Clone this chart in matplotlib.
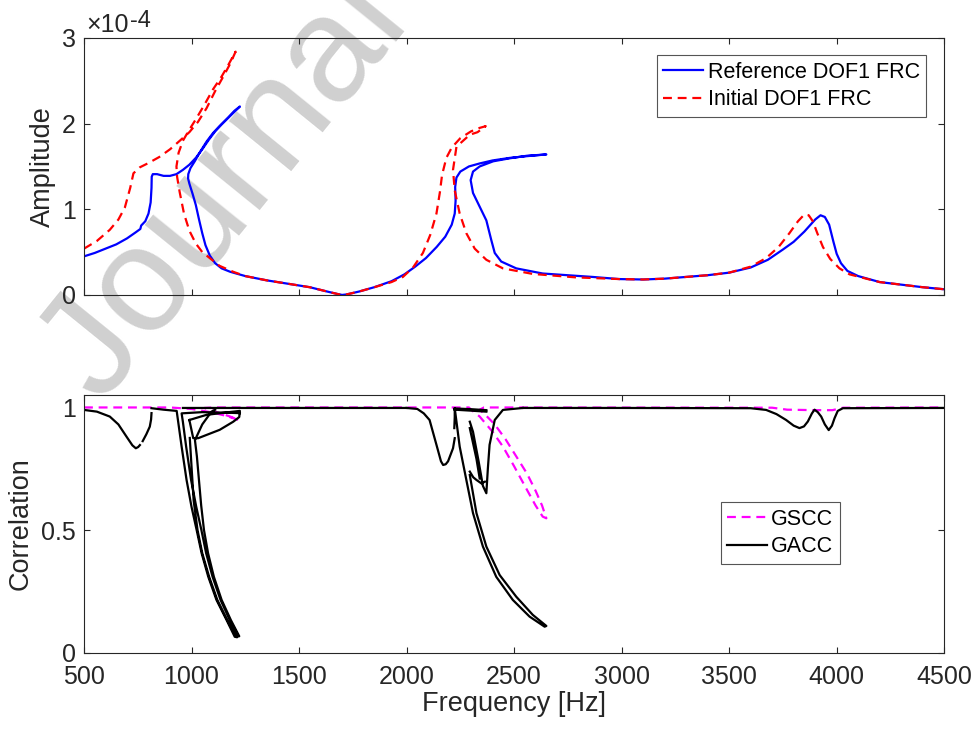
import numpy as np
import matplotlib
matplotlib.use("Agg")
import matplotlib.pyplot as plt

nan = np.nan

# ---- top panel: FRC amplitude (units of 1e-4) along the continuation path ----
ref_freq = [500, 550, 600, 650, 700, 740, 762, 766, 785, 800, 810, 814, 815, 820, 840, 870, 900, 930,
            960, 990, 1020, 1050, 1080, 1110, 1140, 1180, 1225,
            1200, 1170, 1130, 1100, 1070, 1040, 1015, 995, 985, 984, 990, 1005, 1020, 1035, 1050, 1065,
            1085, 1110, 1140, 1180, 1250, 1350, 1450, 1550, 1630, 1680, 1700, 1720, 1780, 1850, 1930,
            1990, 2040, 2090, 2140, 2180, 2210, 2224, 2228, 2226, 2232, 2250, 2290, 2340, 2400, 2480,
            2560, 2650,
            2560, 2480, 2403, 2340, 2309, 2298, 2309, 2340, 2371, 2394, 2410, 2440, 2510, 2633, 2865,
            2990, 3100, 3200, 3300, 3400, 3500, 3600, 3680, 3750, 3800, 3850, 3900, 3925, 3945, 3965,
            3985, 4000, 4020, 4050, 4100, 4200, 4300, 4400, 4500]
ref_amp = [0.45, 0.49, 0.54, 0.59, 0.66, 0.73, 0.77, 0.81, 0.86, 0.95, 1.08, 1.25, 1.38, 1.41, 1.41, 1.39,
           1.39, 1.41, 1.46, 1.52, 1.60, 1.70, 1.81, 1.91, 1.99, 2.09, 2.20,
           2.15, 2.07, 1.97, 1.89, 1.79, 1.67, 1.56, 1.48, 1.41, 1.36, 1.30, 1.18, 1.05, 0.88, 0.72, 0.58,
           0.46, 0.37, 0.31, 0.27, 0.22, 0.17, 0.13, 0.09, 0.04, 0.01, 0.0, 0.005, 0.04, 0.09, 0.16,
           0.24, 0.33, 0.43, 0.56, 0.68, 0.82, 0.95, 1.10, 1.26, 1.37, 1.44, 1.50, 1.535, 1.57, 1.60,
           1.62, 1.64,
           1.625, 1.595, 1.56, 1.50, 1.44, 1.34, 1.19, 1.03, 0.87, 0.64, 0.49, 0.39, 0.31, 0.25, 0.21,
           0.185, 0.18, 0.19, 0.21, 0.23, 0.26, 0.32, 0.41, 0.53, 0.62, 0.74, 0.88, 0.93, 0.91, 0.82,
           0.62, 0.48, 0.37, 0.28, 0.22, 0.15, 0.12, 0.09, 0.066]

ini_freq = [500, 560, 620, 660, 690, 715, 730, 760, 800, 850, 900, 950, 990, 1030, 1070, 1110, 1150,
            1180, 1205,
            1170, 1140, 1100, 1060, 1020, 990, 960, 940, 930, 933, 945, 965, 990, 1020, 1050, 1085,
            1130, 1194, 1250, 1350, 1450, 1550, 1630, 1680, 1700, 1720, 1780, 1850, 1930, 1983, 2030,
            2076, 2110, 2139, 2155, 2165, 2185, 2210, 2250, 2300, 2340, 2368,
            2330, 2294, 2232, 2216, 2224, 2247, 2278, 2317, 2371, 2448, 2587, 2786, 2990, 3100, 3200,
            3300, 3400, 3500, 3600, 3672, 3730, 3780, 3820, 3850, 3870, 3889, 3910, 3936, 3970, 4013,
            4060, 4137, 4200, 4300, 4400, 4500]
ini_amp = [0.54, 0.63, 0.76, 0.88, 1.02, 1.25, 1.42, 1.49, 1.54, 1.61, 1.70, 1.81, 1.90, 2.02, 2.18,
           2.38, 2.56, 2.70, 2.84,
           2.68, 2.55, 2.40, 2.22, 2.05, 1.93, 1.80, 1.66, 1.50, 1.38, 1.20, 0.95, 0.75, 0.60, 0.50, 0.43,
           0.34, 0.27, 0.22, 0.17, 0.13, 0.09, 0.04, 0.01, 0.0, 0.005, 0.04, 0.09, 0.15, 0.21, 0.32,
           0.49, 0.70, 0.95, 1.20, 1.40, 1.60, 1.72, 1.83, 1.91, 1.95, 1.97,
           1.90, 1.87, 1.73, 1.46, 1.22, 0.95, 0.72, 0.54, 0.41, 0.31, 0.245, 0.205, 0.185, 0.18, 0.19,
           0.21, 0.23, 0.26, 0.33, 0.43, 0.56, 0.72, 0.86, 0.94, 0.93, 0.86, 0.72, 0.56, 0.42, 0.31,
           0.24, 0.19, 0.15, 0.12, 0.09, 0.066]

# ---- bottom panel: correlation criteria ----
gscc_freq = [500, 900, 1000, 1100, 1160, 1220, 1180, 1100, 1060, 1100, 2200, 2290, 2300, 2340, 2400,
             2448, 2500, 2556, 2600, 2633, 2650, 2630, 2600, 2560, 2510, 2460, 2410, 2371, 2340, 2360,
             3700, 3770, 3900, 3980, 4030, 4500]
gscc_corr = [0.999, 0.999, 0.993, 0.978, 0.965, 0.948, 0.962, 0.985, 0.997, 0.999, 0.999, 0.999, 0.99,
             0.962, 0.90, 0.84, 0.76, 0.67, 0.60, 0.555, 0.548, 0.60, 0.66, 0.73, 0.80, 0.87, 0.93,
             0.965, 0.99, 0.999, 0.998, 0.99, 0.988, 0.988, 0.998, 0.999]

# first resonance region (NaN = break in the curve)
gacc1_freq = [500, 560, 620, 660, 698, 725, 741, 752, 760, nan,
              773, 790, 806, 812, 814, nan,
              814, 870, 931, 954, 977, 1000, 1024, 1047, 1078, 1116, 1163, 1201, 1212,
              1216, 1178, 1135, 1098, 1068, 1046, 1022, 998, 975, 960, 954, 1050, 1150, 1225, nan,
              992, 1000, 1010, 1028, 1050, 1082, 1120, 1166, 1208, 1222, 1183, 1140, 1104, 1077, 1058,
              1045, 1035, 1025, 1016, 1050, 1093, 1110, nan,
              990, 1008, 1031, 1131, 1194, 1222, 1225, 1194, 1070, 990, nan,
              960, 1500, 2000]
gacc1_corr = [0.989, 0.982, 0.962, 0.93, 0.88, 0.845, 0.833, 0.838, 0.846, nan,
              0.862, 0.89, 0.921, 0.95, 0.976, nan,
              0.996, 0.99, 0.985, 0.84, 0.704, 0.595, 0.50, 0.406, 0.31, 0.216, 0.134, 0.066, 0.064,
              0.07, 0.134, 0.216, 0.31, 0.406, 0.50, 0.595, 0.704, 0.84, 0.94, 0.975, 0.98, 0.978, 0.976, nan,
              0.875, 0.76, 0.62, 0.50, 0.406, 0.31, 0.216, 0.134, 0.07, 0.068, 0.134, 0.216, 0.31, 0.406,
              0.50, 0.60, 0.70, 0.80, 0.866, 0.93, 0.982, 0.99, nan,
              0.948, 0.874, 0.874, 0.908, 0.941, 0.96, 0.985, 0.982, 0.969, 0.948, nan,
              0.997, 0.997, 0.997]

# second resonance region
gacc2_freq = [2000, 2050, 2080, 2107, 2139, 2160, 2170, 2182, 2193, 2216, 2224, nan,
              2222, 2224, 2224, 2247, 2278, 2309, 2355, 2417, 2494, 2572, 2642, 2650,
              2587, 2510, 2433, 2371, 2325, 2294, nan,
              2224, 2300, 2371, nan,
              2224, 2300, 2371, nan,
              2294, 2309, 2335, 2355, 2371, 2378, 2386, 2410, 2448, 2541, nan,
              2294, 2325, 2340, nan,
              2294, 2310, 2325, 2348, 2364]
gacc2_corr = [0.997, 0.993, 0.975, 0.948, 0.847, 0.78, 0.765, 0.768, 0.78, 0.833, 0.874, nan,
              0.915, 0.96, 0.996, 0.84, 0.704, 0.569, 0.433, 0.31, 0.216, 0.148, 0.107, 0.11,
              0.155, 0.229, 0.317, 0.433, 0.569, 0.724, nan,
              0.995, 0.992, 0.988, nan,
              0.99, 0.986, 0.982, nan,
              0.941, 0.90, 0.78, 0.68, 0.65, 0.75, 0.847, 0.948, 0.989, 0.997, nan,
              0.915, 0.79, 0.71, nan,
              0.738, 0.715, 0.704, 0.69, 0.697]

# third resonance and the rest
gacc3_freq = [2541, 3000, 3600, 3672, 3720, 3765, 3800, 3827, 3848, 3866, 3885, 3897, 3912, 3928,
              3945, 3963, 3978, 3990, 4005, 4029, 4500]
gacc3_corr = [0.997, 0.997, 0.996, 0.989, 0.972, 0.948, 0.925, 0.915, 0.922, 0.942, 0.975, 0.99, 0.98,
              0.962, 0.93, 0.907, 0.925, 0.955, 0.985, 0.996, 0.997]

xticks = [500, 1000, 1500, 2000, 2500, 3000, 3500, 4000, 4500]

plt.rcParams['font.family'] = ['Liberation Sans', 'DejaVu Sans']
plt.rcParams['axes.edgecolor'] = '#262626'
plt.rcParams['axes.linewidth'] = 0.8
plt.rcParams['xtick.color'] = '#262626'
plt.rcParams['ytick.color'] = '#262626'

fig = plt.figure(figsize=(9.72, 7.3), dpi=100)

# watermark behind the axes
fig.text(0.105, 0.445, 'Journal Pre-proof', rotation=51, rotation_mode='anchor',
         ha='left', va='baseline', fontsize=108, color='#d0d0d0', zorder=-1)

ax1 = fig.add_axes([0.0864, 0.596, 0.885, 0.352])
ax2 = fig.add_axes([0.0864, 0.1055, 0.885, 0.3535])

for ax in (ax1, ax2):
    ax.set_facecolor('none')
    ax.tick_params(direction='in', top=True, right=True, length=4.5, width=0.8,
                   labelsize=18, labelcolor='#262626')
    ax.tick_params(axis='x', pad=9)
    ax.tick_params(axis='y', pad=6)
    ax.set_xlim(500, 4500)
    ax.set_xticks(xticks)

ax1.plot(ref_freq, ref_amp, color='#0000ff', lw=1.6, label='Reference DOF1 FRC')
ax1.plot(ini_freq, ini_amp, color='#ff0000', lw=1.6, ls=(0, (4, 2.6)), label='Initial DOF1 FRC')
ax1.set_ylim(0, 3)
ax1.set_yticks([0, 1, 2, 3])
ax1.set_xticklabels([])
ax1.set_ylabel('Amplitude', fontsize=19.5, color='#262626', labelpad=4)
# exponent label, MATLAB style
fig.text(0.0885, 0.9566, '\u00d710', fontsize=18, color='#262626', ha='left', va='baseline')
fig.text(0.1335, 0.9625, '-4', fontsize=17, color='#262626', ha='left', va='baseline')
leg1 = ax1.legend(loc='upper right', bbox_to_anchor=(0.979, 0.933), borderaxespad=0,
                  fontsize=15.5, handlelength=1.85, handletextpad=0.2, labelspacing=0.3,
                  borderpad=0.3, fancybox=False, framealpha=1, edgecolor='#555555')
leg1.get_frame().set_linewidth(0.8)

ax2.plot(gscc_freq, gscc_corr, color='#ff00ff', lw=1.6, ls=(0, (4, 2.6)), label='GSCC')
ax2.plot(gacc1_freq, gacc1_corr, color='black', lw=1.6, label='GACC')
ax2.plot(gacc2_freq, gacc2_corr, color='black', lw=1.6)
ax2.plot(gacc3_freq, gacc3_corr, color='black', lw=1.6)
ax2.set_ylim(0, 1.05)
ax2.set_yticks([0, 0.5, 1])
ax2.set_yticklabels(['0', '0.5', '1'])
ax2.set_ylabel('Correlation', fontsize=19.5, color='#262626', labelpad=5)
ax2.set_xlabel('Frequency [Hz]', fontsize=19.5, color='#262626', labelpad=1)
leg2 = ax2.legend(loc='upper left', bbox_to_anchor=(0.740, 0.584), borderaxespad=0,
                  fontsize=15.5, handlelength=1.85, handletextpad=0.2, labelspacing=0.3,
                  borderpad=0.3, fancybox=False, framealpha=1, edgecolor='#555555')
leg2.get_frame().set_linewidth(0.8)

fig.savefig('out.png', dpi=100)
